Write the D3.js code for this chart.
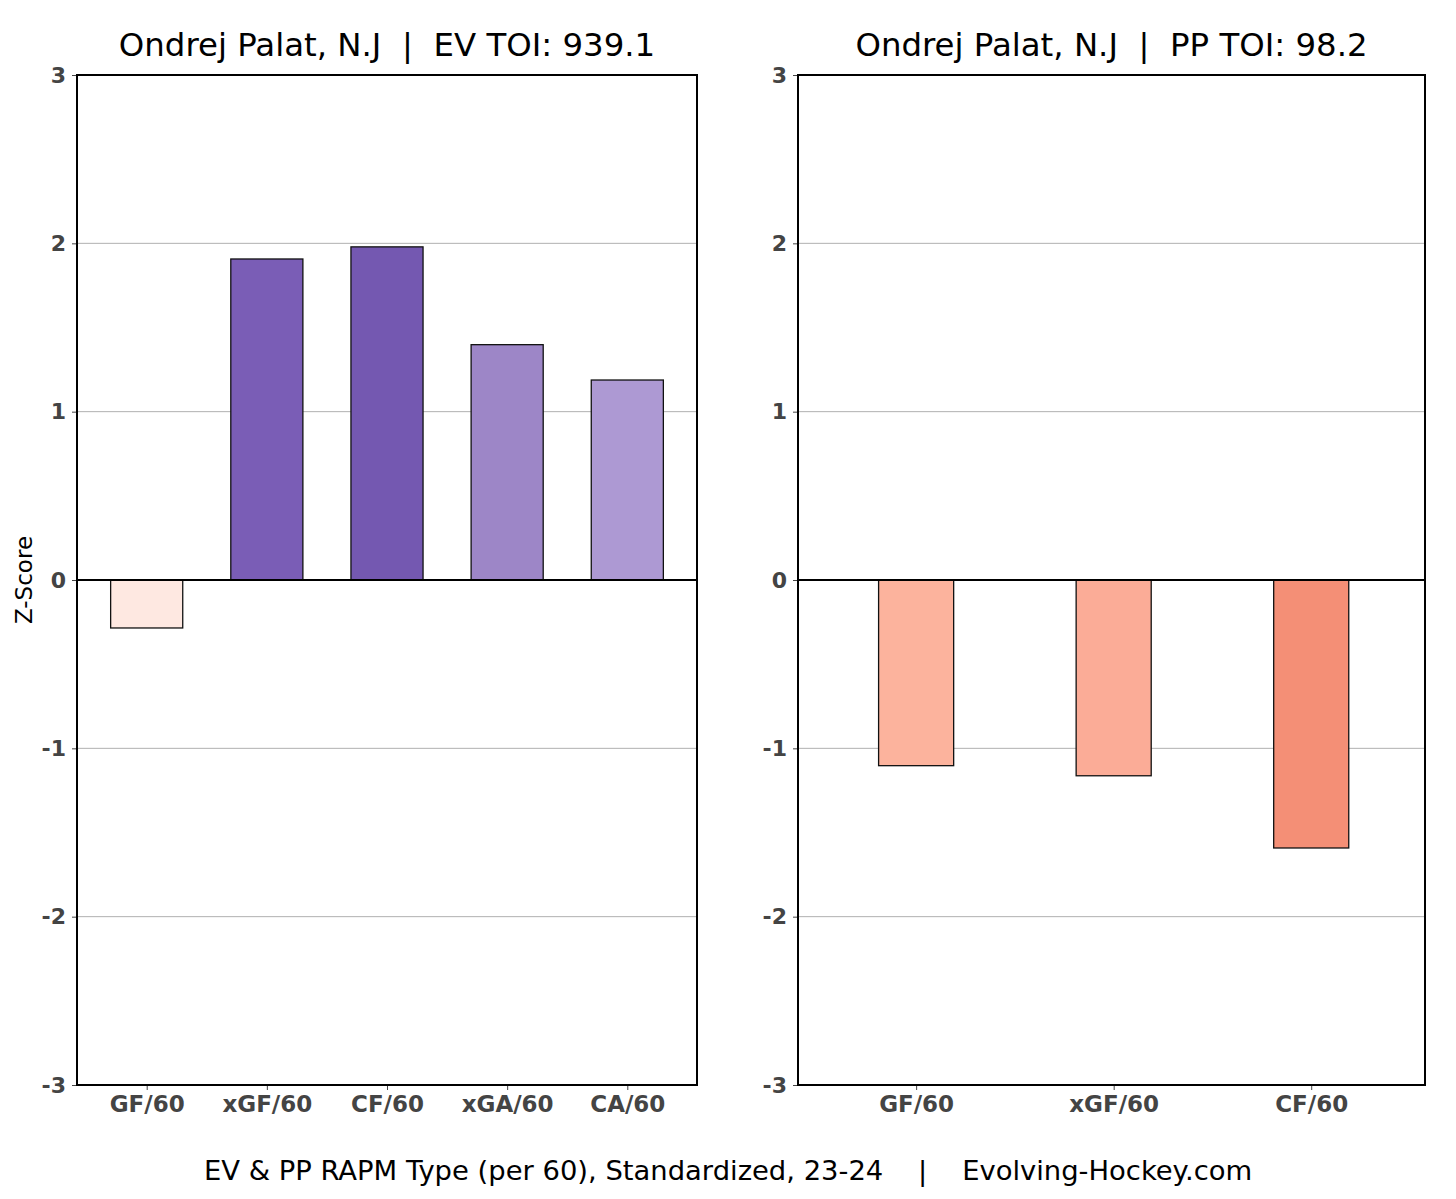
<!DOCTYPE html>
<html><head><meta charset="utf-8">
<script src="https://cdn.jsdelivr.net/npm/d3@7"></script>
<style>body{margin:0;background:#fff}svg text{font-family:"DejaVu Sans",sans-serif}</style>
</head><body><svg id="c" width="1456" height="1199"></svg>
<script>
const evCats = ["GF/60","xGF/60","CF/60","xGA/60","CA/60"];
const evVals = [-0.285, 1.907, 1.979, 1.398, 1.188];
const evColors = ["#fee8e1","#7a5db6","#7458b1","#9d86c7","#ad99d3"];
const ppCats = ["GF/60","xGF/60","CF/60"];
const ppVals = [-1.103, -1.163, -1.592];
const ppColors = ["#fcb39d","#fbac97","#f48f76"];
const yTicks = [-3,-2,-1,0,1,2,3];
const evTitle = "Ondrej Palat, N.J  |  EV TOI: 939.1";
const ppTitle = "Ondrej Palat, N.J  |  PP TOI: 98.2";
const caption = "EV & PP RAPM Type (per 60), Standardized, 23-24    |    Evolving-Hockey.com";

const svg = d3.select("#c");
const plotTop = 75, plotBottom = 1085;

function panel(x0, x1, cats, vals, colors, xdom, barW, title) {
  const x = d3.scaleLinear().domain(xdom).range([x0, x1]);
  const y = d3.scaleLinear().domain([-3, 3]).range([plotBottom, plotTop]);
  const g = svg.append("g");
  g.selectAll(".grid").data(yTicks.filter(t => t !== 0 && Math.abs(t) !== 3)).join("line")
    .attr("x1", x0).attr("x2", x1).attr("y1", d => y(d)).attr("y2", d => y(d))
    .attr("stroke", "#b0b0b0").attr("stroke-width", 1);
  g.selectAll(".bar").data(vals).join("rect")
    .attr("x", (d, i) => x(i - barW / 2))
    .attr("width", (d, i) => x(i + barW / 2) - x(i - barW / 2))
    .attr("y", d => y(Math.max(0, d)))
    .attr("height", d => Math.abs(y(d) - y(0)))
    .attr("fill", (d, i) => colors[i])
    .attr("stroke", "#111").attr("stroke-width", 1.3);
  g.append("line").attr("x1", x0).attr("x2", x1).attr("y1", y(0)).attr("y2", y(0))
    .attr("stroke", "#000").attr("stroke-width", 2);
  const ya = g.append("g").attr("transform", `translate(${x0},0)`)
    .call(d3.axisLeft(y).tickValues(yTicks).tickSize(5).tickPadding(6).tickFormat(d => String(d)));
  ya.select(".domain").remove();
  ya.selectAll("line").attr("stroke", "#444");
  ya.selectAll("text").attr("font-size", 22).attr("font-weight", "bold").attr("fill", "#444");
  const xa = g.append("g").attr("transform", `translate(0,${plotBottom})`)
    .call(d3.axisBottom(x).tickValues(d3.range(cats.length)).tickSize(5).tickPadding(6).tickFormat(i => cats[i]));
  xa.select(".domain").remove();
  xa.selectAll("line").attr("stroke", "#444");
  xa.selectAll("text").attr("font-size", 23).attr("font-weight", "bold").attr("fill", "#444");
  g.append("rect").attr("x", x0).attr("y", plotTop).attr("width", x1 - x0).attr("height", plotBottom - plotTop)
    .attr("fill", "none").attr("stroke", "#000").attr("stroke-width", 2);
  g.append("text").attr("x", (x0 + x1) / 2).attr("y", 56).attr("text-anchor", "middle")
    .attr("font-size", 32.4).attr("fill", "#000").style("white-space", "pre").text(title);
}

panel(77, 697, evCats, evVals, evColors, [-0.58, 4.58], 0.6, evTitle);
panel(798, 1425, ppCats, ppVals, ppColors, [-0.598, 2.576], 0.38, ppTitle);

svg.append("text").attr("transform", "translate(32,580) rotate(-90)").attr("text-anchor", "middle")
  .attr("font-size", 23).attr("fill", "#000").text("Z-Score");
svg.append("text").attr("x", 728).attr("y", 1180).attr("text-anchor", "middle")
  .attr("font-size", 27.4).attr("fill", "#000").style("white-space", "pre").text(caption);
</script></body></html>
